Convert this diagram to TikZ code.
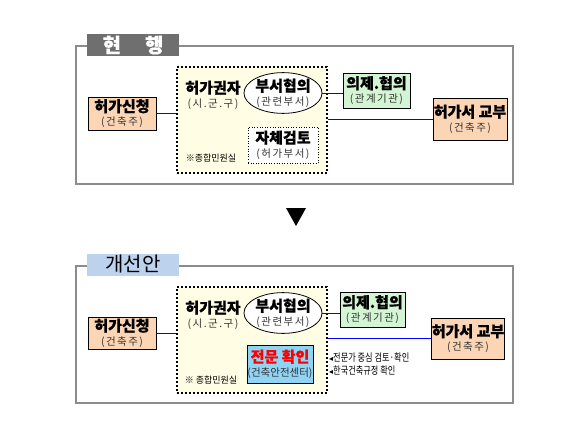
\documentclass[tikz,border=0pt]{standalone}
\usepackage{fontspec}
\setmainfont{Noto Sans CJK KR}[BoldFeatures={FakeBold=0.6}]
\newfontfamily\dv{DejaVu Sans}
\newfontfamily\subf{Noto Sans CJK KR}[LetterSpace=14]
\newfontfamily\condf{Noto Sans CJK KR}[FakeStretch=0.78]
\usetikzlibrary{shapes.geometric}
\definecolor{peach}{HTML}{FCD5B5}
\definecolor{mint}{HTML}{D4F5D4}
\definecolor{pale}{HTML}{FFFDE3}
\definecolor{sky}{HTML}{8FD3F5}
\definecolor{tabblue}{HTML}{BDD2EC}
\definecolor{tabgray}{HTML}{6F6F6F}
\definecolor{framegray}{HTML}{8C8C8C}
\definecolor{linkblue}{HTML}{0000FF}
\tikzset{
  frame/.style={draw=framegray,line width=1.5pt},
  tab/.style={inner sep=0pt,minimum width=92pt,minimum height=22pt},
  inner/.style={draw=black,fill=pale,line width=2pt,dash pattern=on 2pt off 2pt,minimum width=150pt,minimum height=106pt,inner sep=0pt},
  big/.style={font=\fontsize{15}{15}\selectfont\bfseries},
  box/.style={draw=black,line width=0.8pt,align=center,inner sep=0pt,big},
  link/.style={draw=linkblue,line width=0.9pt},
  note/.style={font=\fontsize{9}{10}\selectfont,inner sep=0pt},
}
\newcommand{\twol}[2]{#1\\[-1pt]{\subf\fontsize{10.5}{11}\selectfont\mdseries\color{black!80}#2}}
\newcommand{\tri}{{\dv\fontsize{8}{8}\selectfont ◂}}
\begin{document}
\begin{tikzpicture}[x=1pt,y=-1pt]
\useasboundingbox (0,0) rectangle (586,428);
% ---------------- top -----------------
\node[frame,minimum width=437pt,minimum height=138pt,inner sep=0pt] (frame1) at (294.5,115) {};
\node[tab,fill=tabgray,text=white,font=\fontsize{20}{20}\selectfont\bfseries] (tab1) at (133,45) {현\hspace{24pt}행};
\node[inner] (inner1) at (252,120) {};
\node[box,fill=peach,minimum width=68pt,minimum height=33pt] (req1) at (122,113.5) {\twol{허가신청}{(건축주)}};
\node[align=center,inner sep=0pt,big] (auth1) at (213,95) {\twol{허가권자}{(시.군.구)}};
\node[ellipse,draw=black,fill=white,line width=0.8pt,minimum width=70pt,minimum height=37pt,inner sep=0pt,align=center,big] (ell1) at (283,93) {\twol{부서협의}{(관련부서)}};
\node[box,fill=white,line width=0.6pt,dotted,minimum width=70pt,minimum height=36pt] (self1) at (283,145) {\twol{자체검토}{(허가부서)}};
\node[note] (win1) at (211,158) {※종합민원실};
\node[box,fill=mint,minimum width=67pt,minimum height=35pt] (cons1) at (376.5,90.5) {\twol{의제.협의}{(관계기관)}};
\node[box,fill=peach,minimum width=74pt,minimum height=42pt] (iss1) at (470,119) {\twol{허가서 교부}{(건축주)}};
\draw[link] (req1.east) -- (req1.east -| inner1.west);
\draw[link] (ell1.east) -- (ell1.east -| cons1.west);
\draw[link] (iss1.west -| inner1.east) -- (iss1.west);
% arrow
\fill[black] (286,208) -- (306,208) -- (296,226) -- cycle;
% ---------------- bottom -----------------
\node[frame,minimum width=437pt,minimum height=137pt,inner sep=0pt] (frame2) at (294.5,334.5) {};
\node[tab,fill=tabblue,text=black,font=\fontsize{20}{20}\selectfont] (tab2) at (133,264.5) {개선안};
\node[inner] (inner2) at (251.5,340) {};
\node[box,fill=peach,minimum width=68pt,minimum height=32pt] (req2) at (122,333) {\twol{허가신청}{(건축주)}};
\node[align=center,inner sep=0pt,big] (auth2) at (213,315) {\twol{허가권자}{(시.군.구)}};
\node[ellipse,draw=black,fill=white,line width=0.8pt,minimum width=70pt,minimum height=40pt,inner sep=0pt,align=center,big] (ell2) at (283,313) {\twol{부서협의}{(관련부서)}};
\node[box,fill=sky,minimum width=66pt,minimum height=38pt] (exp2) at (280,364) {{\color{red}전문 확인}\\[-1pt]{\fontsize{10.5}{11}\selectfont\mdseries\color{black!80}(건축안전센터)}};
\node[note] (win2) at (211,380) {※ 종합민원실};
\node[box,fill=mint,minimum width=65pt,minimum height=35pt] (cons2) at (372.5,309.5) {\twol{의제.협의}{(관계기관)}};
\node[box,fill=peach,minimum width=72pt,minimum height=41pt] (iss2) at (468,338.5) {\twol{허가서 교부}{(건축주)}};
\node[anchor=west,inner sep=0pt,font=\fontsize{10.5}{11}\selectfont] (b1) at (329,358) {\tri{\condf 전문가 중심 검토·확인}};
\node[anchor=west,inner sep=0pt,font=\fontsize{10.5}{11}\selectfont] (b2) at (329,371) {\tri{\condf 한국건축규정 확인}};
\draw[link] (req2.east) -- (req2.east -| inner2.west);
\draw[link] (ell2.east) -- (ell2.east -| cons2.west);
\draw[link] (iss2.west -| inner2.east) -- (iss2.west);
\end{tikzpicture}
\end{document}
